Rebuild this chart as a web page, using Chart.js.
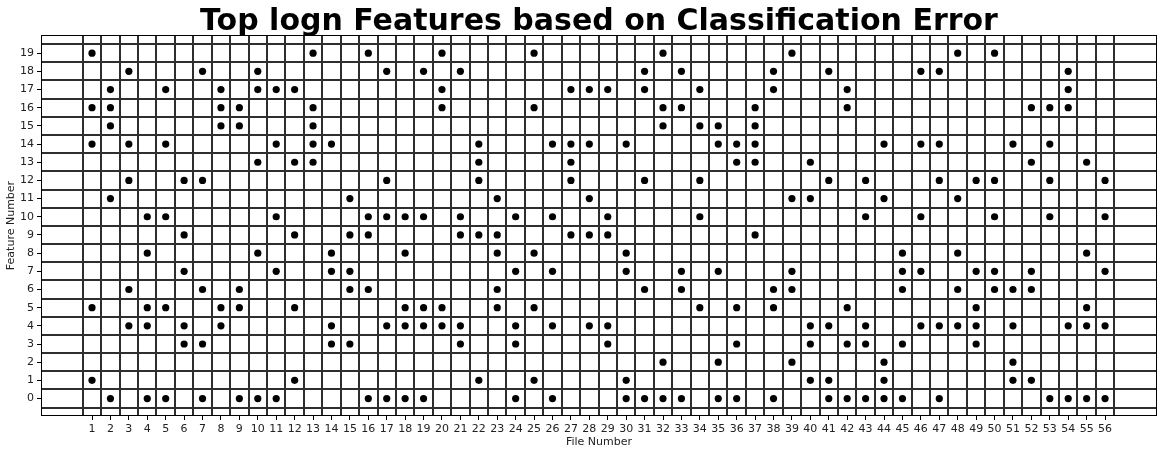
<!DOCTYPE html>
<html>
<head>
<meta charset="utf-8">
<script src="https://cdn.jsdelivr.net/npm/chart.js@4/dist/chart.umd.min.js"></script>
<style>
  html, body { margin: 0; padding: 0; background: #fff; }
  #wrap { width: 1164px; height: 454px; }
</style>
</head>
<body>
<div id="wrap"><canvas id="c" width="1164" height="454"></canvas></div>
<script>
const chartTitle = 'Top logn Features based on Classification Error';
const xTitle = 'File Number';
const yTitle = 'Feature Number';

const fileNumbers = [1,2,3,4,5,6,7,8,9,10,11,12,13,14,15,16,17,18,19,20,21,22,23,24,25,26,27,28,
                     29,30,31,32,33,34,35,36,37,38,39,40,41,42,43,44,45,46,47,48,49,50,51,52,53,54,55,56];
const featureTicks = [0,1,2,3,4,5,6,7,8,9,10,11,12,13,14,15,16,17,18,19];

// top 5 features per file (same order as fileNumbers)
const topFeatures = [
  [19,16,14,5,1],  [17,16,15,11,0], [18,14,12,6,4],  [10,8,5,4,0],   [17,14,10,5,0],
  [12,9,7,4,3],    [18,12,6,3,0],   [17,16,15,5,4],  [16,15,6,5,0],  [18,17,13,8,0],
  [17,14,10,7,0],  [17,13,9,5,1],   [19,16,15,14,13],[14,8,7,4,3],   [11,9,7,6,3],
  [19,10,9,6,0],   [18,12,10,4,0],  [10,8,5,4,0],    [18,10,5,4,0],  [19,17,16,5,4],
  [18,10,9,4,3],   [14,13,12,9,1],  [11,9,8,6,5],    [10,7,4,3,0],   [19,16,8,5,1],
  [14,10,7,4,0],   [17,14,13,12,9], [17,14,11,9,4],  [17,10,9,4,3],  [14,8,7,1,0],
  [18,17,12,6,0],  [19,16,15,2,0],  [18,16,7,6,0],   [17,15,12,10,5],[15,14,7,2,0],
  [14,13,5,3,0],   [16,15,14,13,9], [18,17,6,5,0],   [19,11,7,6,2],  [13,11,4,3,1],
  [18,12,4,1,0],   [17,16,5,3,0],   [12,10,4,3,0],   [14,11,2,1,0],  [8,7,6,3,0],
  [18,14,10,7,4],  [18,14,12,4,0],  [19,11,8,6,4],   [12,7,5,4,3],   [19,12,10,7,6],
  [14,6,4,2,1],    [16,13,7,6,1],   [16,14,12,10,0], [18,17,16,4,0], [13,8,5,4,0],
  [12,10,7,4,0]
];

const points = [];
fileNumbers.forEach((f, i) => {
  topFeatures[i].forEach(v => points.push({ x: f, y: v }));
});

const cellGrid = {
  id: 'cellGrid',
  beforeDatasetsDraw(chart) {
    const { ctx, chartArea: a, scales: { x, y } } = chart;
    ctx.save();
    ctx.beginPath();
    ctx.rect(a.left, a.top, a.right - a.left, a.bottom - a.top);
    ctx.clip();
    ctx.strokeStyle = '#2e2e2e';
    ctx.lineWidth = 2;
    const xs = fileNumbers.map(f => f - 0.5).concat([fileNumbers[fileNumbers.length - 1] + 0.5]);
    xs.forEach(v => {
      const px = Math.round(x.getPixelForValue(v));
      ctx.beginPath(); ctx.moveTo(px, a.top); ctx.lineTo(px, a.bottom); ctx.stroke();
    });
    const ys = featureTicks.map(t => t - 0.5).concat([featureTicks[featureTicks.length - 1] + 0.5]);
    ys.forEach(v => {
      const py = Math.round(y.getPixelForValue(v));
      ctx.beginPath(); ctx.moveTo(a.left, py); ctx.lineTo(a.right, py); ctx.stroke();
    });
    ctx.restore();
  },
  afterDatasetsDraw(chart) {
    const { ctx, chartArea: a } = chart;
    ctx.save();
    ctx.strokeStyle = '#000';
    ctx.lineWidth = 1;
    ctx.strokeRect(Math.round(a.left) + 0.5, Math.round(a.top) + 0.5,
                   Math.round(a.right - a.left) - 1, Math.round(a.bottom - a.top) - 1);
    // title centred over the plot area
    ctx.fillStyle = '#000';
    ctx.font = 'bold 30px "DejaVu Sans"';
    ctx.textAlign = 'center';
    ctx.textBaseline = 'alphabetic';
    ctx.fillText(chartTitle, (a.left + a.right) / 2, 29.5);
    ctx.restore();
  }
};

new Chart(document.getElementById('c'), {
  type: 'scatter',
  data: {
    datasets: [{
      data: points,
      backgroundColor: '#000',
      borderColor: '#000',
      pointRadius: 3.6,
      pointHoverRadius: 3.6,
      borderWidth: 0
    }]
  },
  plugins: [cellGrid],
  options: {
    responsive: false,
    animation: false,
    events: [],
    layout: { padding: { left: 0, right: 7, top: 35, bottom: 0 } },
    plugins: {
      legend: { display: false },
      tooltip: { enabled: false },
      title: { display: false }
    },
    scales: {
      x: {
        type: 'linear',
        min: -1.77,
        max: 58.82,
        afterBuildTicks: s => { s.ticks = fileNumbers.map(v => ({ value: v })); },
        afterFit: s => { s.height = 38; },
        ticks: {
          autoSkip: false, maxRotation: 0, minRotation: 0,
          color: '#222', padding: 3,
          font: { family: 'DejaVu Sans', size: 11 },
          callback: v => String(v)
        },
        grid: { display: true, drawOnChartArea: false, drawTicks: true, tickLength: 4, color: '#000' },
        border: { display: false },
        title: {
          display: true, text: xTitle, color: '#222',
          font: { family: 'DejaVu Sans', size: 11 },
          padding: { top: 0, bottom: 5 }
        }
      },
      y: {
        type: 'linear',
        min: -0.96,
        max: 20.0,
        afterBuildTicks: s => { s.ticks = featureTicks.map(v => ({ value: v })); },
        afterFit: s => { s.width = 41; },
        ticks: {
          autoSkip: false, color: '#222', padding: 3,
          font: { family: 'DejaVu Sans', size: 11 },
          callback: v => String(v)
        },
        grid: { display: true, drawOnChartArea: false, drawTicks: true, tickLength: 4, color: '#000' },
        border: { display: false },
        title: {
          display: true, text: yTitle, color: '#222',
          font: { family: 'DejaVu Sans', size: 11 },
          padding: { top: 5, bottom: 0 }
        }
      }
    }
  }
});
</script>
</body>
</html>
